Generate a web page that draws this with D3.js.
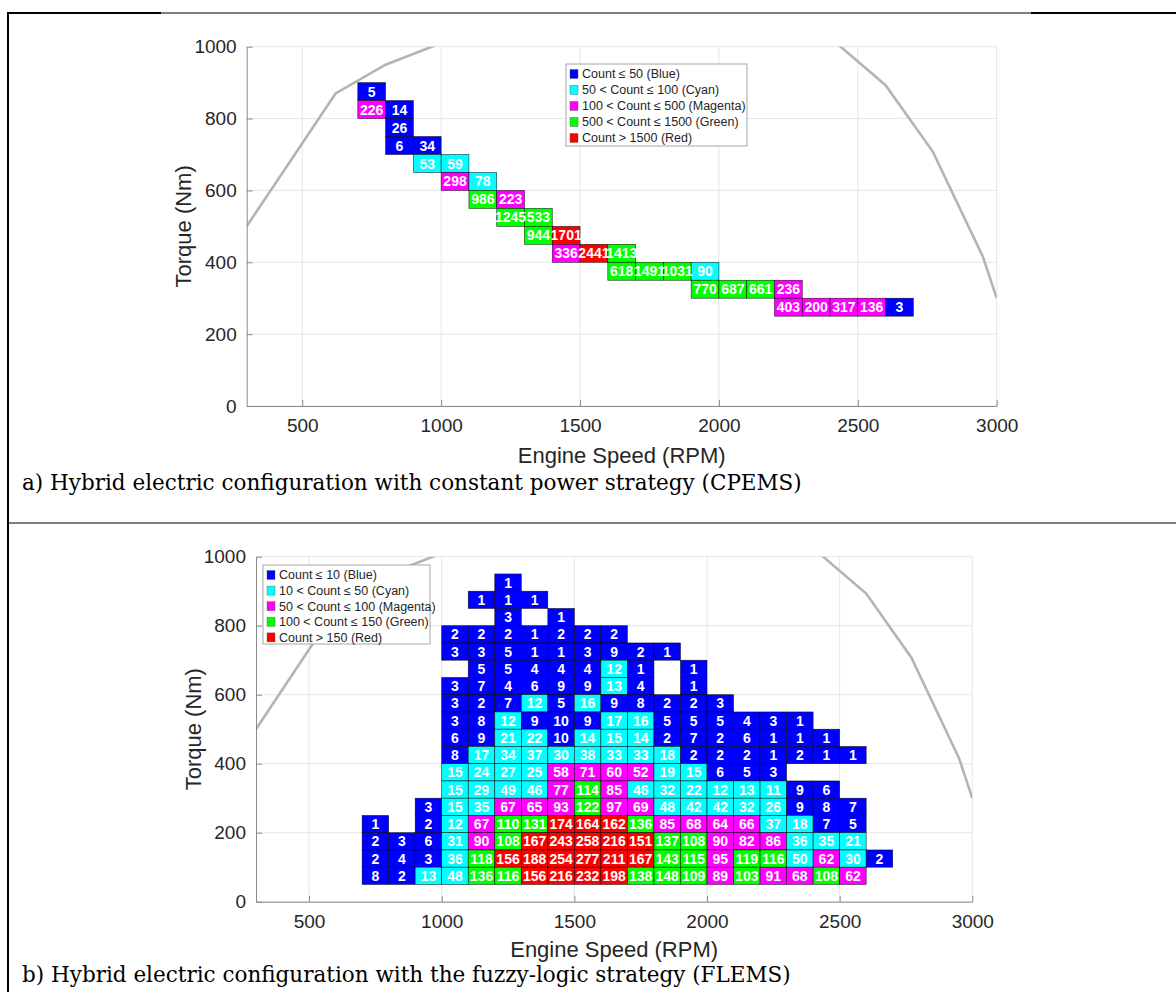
<!DOCTYPE html>
<html>
<head>
<meta charset="utf-8">
<script src="https://cdn.jsdelivr.net/npm/d3@7"></script>
<style>
  body { margin: 0; background: #fff; }
  svg text { font-family: "Liberation Sans", Arial, sans-serif; }
  .caption { font-family: "DejaVu Serif", serif; }
</style>
</head>
<body>
<svg width="1176" height="992"></svg>
<script>
const svg = d3.select('svg');

// a) constant power strategy: one entry per occupied bin (bin left edge, bin bottom, count)
const cpSpeed  = [700, 700, 800, 800, 800, 900, 900, 1000, 1000, 1100, 1100, 1200, 1200, 1300, 1300, 1400,
                  1400, 1500, 1600, 1600, 1700, 1800, 1900, 1900, 2000, 2100, 2200, 2200, 2300, 2400, 2500, 2600];
const cpTorque = [850, 800, 800, 750, 700, 700, 650, 650, 600, 600, 550, 550, 500, 500, 450, 450,
                  400, 400, 400, 350, 350, 350, 350, 300, 300, 300, 300, 250, 250, 250, 250, 250];
const cpCount  = [5, 226, 14, 26, 6, 34, 53, 59, 298, 78, 986, 223, 1245, 533, 944, 1701,
                  336, 2441, 1413, 618, 1491, 1031, 90, 770, 687, 661, 236, 403, 200, 317, 136, 3];
const cpLimits = [50, 100, 500, 1500];
const cpLegend = ['Count \u2264 50 (Blue)', '50 < Count \u2264 100 (Cyan)', '100 < Count \u2264 500 (Magenta)',
                  '500 < Count \u2264 1500 (Green)', 'Count > 1500 (Red)'];

// b) fuzzy logic strategy: count grid, 0 = empty bin
const flSpeedBins  = [700, 800, 900, 1000, 1100, 1200, 1300, 1400, 1500, 1600,
                      1700, 1800, 1900, 2000, 2100, 2200, 2300, 2400, 2500, 2600];
const flTorqueBins = [900, 850, 800, 750, 700, 650, 600, 550, 500, 450, 400, 350, 300, 250, 200, 150, 100, 50];
const flCount = [
  [0, 0, 0, 0, 0, 1, 0, 0, 0, 0, 0, 0, 0, 0, 0, 0, 0, 0, 0, 0],
  [0, 0, 0, 0, 1, 1, 1, 0, 0, 0, 0, 0, 0, 0, 0, 0, 0, 0, 0, 0],
  [0, 0, 0, 0, 0, 3, 0, 1, 0, 0, 0, 0, 0, 0, 0, 0, 0, 0, 0, 0],
  [0, 0, 0, 2, 2, 2, 1, 2, 2, 2, 0, 0, 0, 0, 0, 0, 0, 0, 0, 0],
  [0, 0, 0, 3, 3, 5, 1, 1, 3, 9, 2, 1, 0, 0, 0, 0, 0, 0, 0, 0],
  [0, 0, 0, 0, 5, 5, 4, 4, 4, 12, 1, 0, 1, 0, 0, 0, 0, 0, 0, 0],
  [0, 0, 0, 3, 7, 4, 6, 9, 9, 13, 4, 0, 1, 0, 0, 0, 0, 0, 0, 0],
  [0, 0, 0, 3, 2, 7, 12, 5, 16, 9, 8, 2, 2, 3, 0, 0, 0, 0, 0, 0],
  [0, 0, 0, 3, 8, 12, 9, 10, 9, 17, 16, 5, 5, 5, 4, 3, 1, 0, 0, 0],
  [0, 0, 0, 6, 9, 21, 22, 10, 14, 15, 14, 2, 7, 2, 6, 1, 1, 1, 0, 0],
  [0, 0, 0, 8, 17, 34, 37, 30, 38, 33, 33, 18, 2, 2, 2, 1, 2, 1, 1, 0],
  [0, 0, 0, 15, 24, 27, 25, 58, 71, 60, 52, 19, 15, 6, 5, 3, 0, 0, 0, 0],
  [0, 0, 0, 15, 29, 49, 46, 77, 114, 85, 46, 32, 22, 12, 13, 11, 9, 6, 0, 0],
  [0, 0, 3, 15, 35, 67, 65, 93, 122, 97, 69, 48, 42, 42, 32, 26, 9, 8, 7, 0],
  [1, 0, 2, 12, 67, 110, 131, 174, 164, 162, 136, 85, 68, 64, 66, 37, 18, 7, 5, 0],
  [2, 3, 6, 31, 90, 108, 167, 243, 258, 216, 151, 137, 108, 90, 82, 86, 36, 35, 21, 0],
  [2, 4, 3, 36, 118, 156, 188, 254, 277, 211, 167, 143, 115, 95, 119, 116, 50, 62, 30, 2],
  [8, 2, 13, 48, 136, 116, 156, 216, 232, 198, 138, 148, 109, 89, 103, 91, 68, 108, 62, 0]
];
const flLimits = [10, 50, 100, 150];
const flLegend = ['Count \u2264 10 (Blue)', '10 < Count \u2264 50 (Cyan)', '50 < Count \u2264 100 (Magenta)',
                  '100 < Count \u2264 150 (Green)', 'Count > 150 (Red)'];

// engine max torque line (grey)
const curveSpeed  = [300, 620, 800, 1000, 1500, 2000, 2400, 2600, 2770, 2950, 3000];
const curveTorque = [500, 870, 950, 1010, 1100, 1100, 1025, 893, 708, 416, 300];

const xTicks = [500, 1000, 1500, 2000, 2500, 3000];
const yTicks = [0, 200, 400, 600, 800, 1000];
const palette = ['#0000ff', '#00ffff', '#ff00ff', '#00ff00', '#ff0000'];
const binW = 100, binH = 50;

// flatten grid for panel b
let flCells = [];
flTorqueBins.forEach(function(t, i) {
  flSpeedBins.forEach(function(s, j) {
    if (flCount[i][j] > 0) flCells.push({speed: s, torque: t, count: flCount[i][j]});
  });
});
let cpCells = cpCount.map(function(c, i) { return {speed: cpSpeed[i], torque: cpTorque[i], count: c}; });

// table frame
svg.append('rect').attr('width', 1176).attr('height', 992).attr('fill', '#fff');
svg.append('line').attr('x1', 8).attr('x2', 1176).attr('y1', 13).attr('y2', 13).attr('stroke', '#000').attr('stroke-width', 1);
svg.append('line').attr('x1', 7).attr('x2', 161).attr('y1', 13).attr('y2', 13).attr('stroke', '#000').attr('stroke-width', 2);
svg.append('line').attr('x1', 1031).attr('x2', 1176).attr('y1', 13).attr('y2', 13).attr('stroke', '#000').attr('stroke-width', 2);
svg.append('line').attr('x1', 8).attr('x2', 8).attr('y1', 12).attr('y2', 992).attr('stroke', '#000').attr('stroke-width', 2);
svg.append('line').attr('x1', 8).attr('x2', 1176).attr('y1', 523).attr('y2', 523).attr('stroke', '#000').attr('stroke-width', 1);

function drawPanel(p) {
  let x = d3.scaleLinear().domain([300, 3000]).range([p.left, p.right]);
  let y = d3.scaleLinear().domain([0, 1000]).range([p.bottom, p.top]);
  let color = function(c) { return palette[d3.bisectLeft(p.limits, c)]; };
  let g = svg.append('g');

  // grid
  g.selectAll('.gx').data(xTicks).enter().append('line')
    .attr('x1', d => x(d)).attr('x2', d => x(d)).attr('y1', p.top).attr('y2', p.bottom)
    .attr('stroke', '#e6e6e6');
  g.selectAll('.gy').data(yTicks).enter().append('line')
    .attr('x1', p.left).attr('x2', p.right).attr('y1', d => y(d)).attr('y2', d => y(d))
    .attr('stroke', '#e6e6e6');

  // cells
  g.selectAll('.cell').data(p.cells).enter().append('rect')
    .attr('x', d => x(d.speed)).attr('y', d => y(d.torque + binH))
    .attr('width', d => x(d.speed + binW) - x(d.speed))
    .attr('height', d => y(d.torque) - y(d.torque + binH))
    .attr('fill', d => color(d.count))
    .attr('stroke', '#000').attr('stroke-width', 0.6).attr('stroke-opacity', 0.8);
  g.selectAll('.lbl').data(p.cells).enter().append('text')
    .attr('x', d => x(d.speed + binW / 2)).attr('y', d => y(d.torque + binH / 2))
    .attr('dy', '0.36em').attr('text-anchor', 'middle')
    .attr('fill', '#fff').style('font-weight', 'bold').style('font-size', '14px')
    .text(d => d.count);

  // max torque curve, clipped to axes
  svg.append('clipPath').attr('id', p.id + 'clip').append('rect')
    .attr('x', p.left).attr('y', p.top).attr('width', p.right - p.left).attr('height', p.bottom - p.top);
  let line = d3.line().x(d => x(d[0])).y(d => y(d[1]));
  g.append('path').datum(curveSpeed.map((s, i) => [s, curveTorque[i]]))
    .attr('d', line).attr('fill', 'none').attr('stroke', '#b4b4b4').attr('stroke-width', 2.6)
    .attr('clip-path', 'url(#' + p.id + 'clip)');

  // axes
  let xAxis = g.append('g').attr('transform', 'translate(0,' + p.bottom + ')')
    .call(d3.axisBottom(x).tickValues(xTicks).tickFormat(d3.format('d'))
      .tickSize(-6).tickSizeOuter(0).tickPadding(13));
  let yAxis = g.append('g').attr('transform', 'translate(' + p.left + ',0)')
    .call(d3.axisLeft(y).tickValues(yTicks).tickFormat(d3.format('d'))
      .tickSize(-6).tickSizeOuter(0).tickPadding(10));
  [xAxis, yAxis].forEach(function(a) {
    a.select('.domain').attr('stroke', '#8a8a8a');
    a.selectAll('.tick line').attr('stroke', '#8a8a8a');
    a.selectAll('.tick text').attr('fill', '#262626').style('font-size', '19px')
      .style('font-family', '"Liberation Sans", Arial, sans-serif');
  });

  g.append('text').attr('x', (p.left + p.right) / 2).attr('y', p.bottom + p.xLabelOff)
    .attr('text-anchor', 'middle').attr('fill', '#262626').style('font-size', '22px')
    .text('Engine Speed (RPM)');
  g.append('text').attr('transform', 'translate(' + (p.left - 63) + ',' + (p.top + p.bottom) / 2 + ') rotate(-90)')
    .attr('dy', '0.35em').attr('text-anchor', 'middle').attr('fill', '#262626').style('font-size', '22px')
    .text('Torque (Nm)');

  // legend
  let lg = g.append('g').attr('transform', 'translate(' + p.legendX + ',' + p.legendY + ')');
  lg.append('rect').attr('width', p.legendW).attr('height', p.legendH)
    .attr('fill', '#fff').attr('stroke', '#a6a6a6');
  let item = lg.selectAll('.item').data(p.legend).enter().append('g')
    .attr('transform', (d, i) => 'translate(0,' + (10 + i * p.legendStep) + ')');
  item.append('rect').attr('x', 4).attr('y', -4.5).attr('width', 8).attr('height', 9)
    .attr('fill', (d, i) => palette[i]).attr('stroke', '#555').attr('stroke-width', 0.4);
  item.append('text').attr('x', 16).attr('dy', '0.35em').attr('fill', '#262626')
    .style('font-size', '12.5px').text(d => d);

  svg.append('text').attr('class', 'caption').attr('x', 22).attr('y', p.bottom + p.captionOff)
    .attr('fill', '#000').style('font-size', '21.5px').text(p.caption);
}

drawPanel({
  id: 'a', cells: cpCells, limits: cpLimits, legend: cpLegend,
  left: 246.7, right: 996.7, top: 46.7, bottom: 406,
  legendX: 566, legendY: 64, legendW: 181, legendH: 82, legendStep: 16,
  xLabelOff: 57, captionOff: 84,
  caption: 'a) Hybrid electric configuration with constant power strategy (CPEMS)'
});
drawPanel({
  id: 'b', cells: flCells, limits: flLimits, legend: flLegend,
  left: 256, right: 972.3, top: 556.7, bottom: 901.7,
  legendX: 263, legendY: 565, legendW: 167, legendH: 79, legendStep: 15.6,
  xLabelOff: 55, captionOff: 80.5,
  caption: 'b) Hybrid electric configuration with the fuzzy-logic strategy (FLEMS)'
});
</script>
</body>
</html>
